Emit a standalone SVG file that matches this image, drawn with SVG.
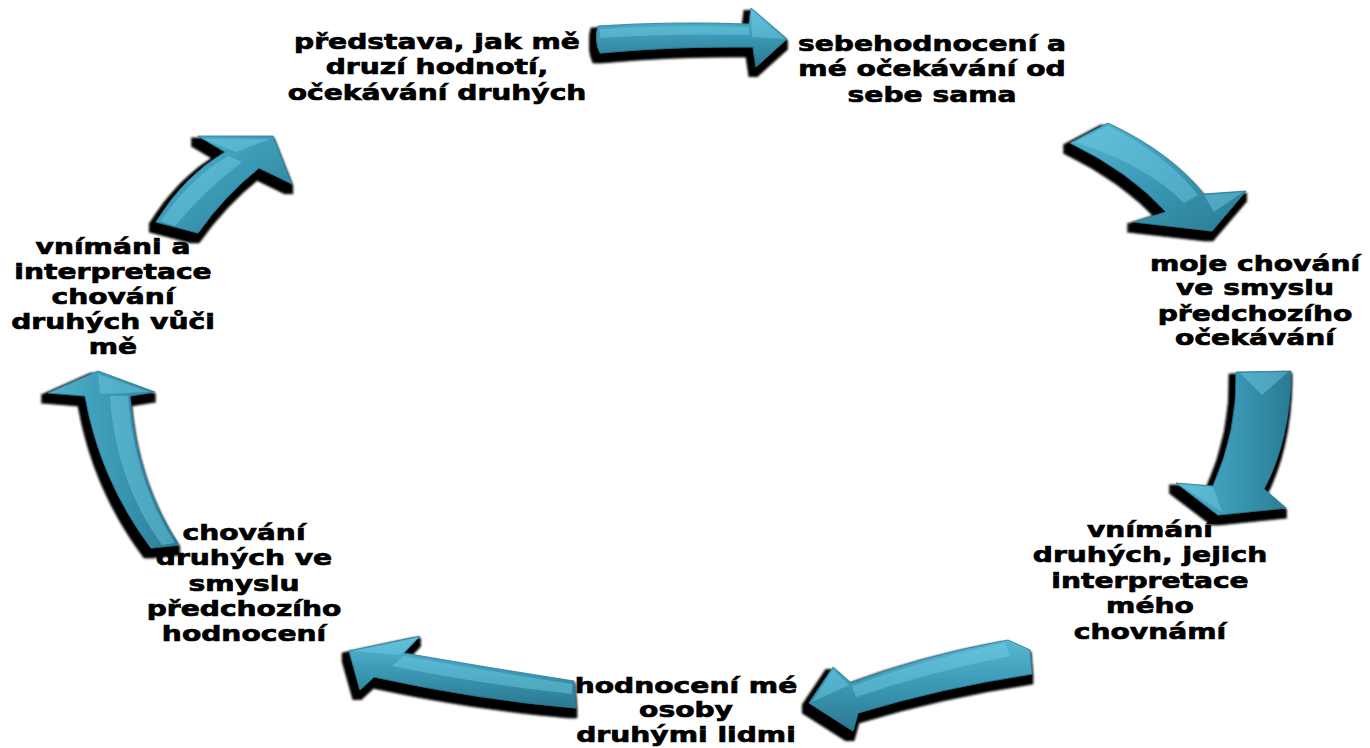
<svg xmlns="http://www.w3.org/2000/svg" width="1370" height="748" viewBox="0 0 1370 748">
<defs>
<style>
.t{font-family:"DejaVu Sans","Liberation Sans",sans-serif;font-weight:bold;font-size:22px;fill:#000;stroke:#000;stroke-width:0.7;text-anchor:middle}
.ar{filter:url(#sh);stroke:#2a7890;stroke-width:0.8;stroke-linejoin:round}
.hl{fill:#74cfe6;opacity:0.45}
</style>
<linearGradient id="gV" x1="0" y1="0" x2="0" y2="1">
<stop offset="0" stop-color="#58b8d2"/><stop offset="0.45" stop-color="#3d9cb8"/><stop offset="1" stop-color="#2a7790"/>
</linearGradient>
<linearGradient id="gH" x1="0" y1="0" x2="1" y2="0">
<stop offset="0" stop-color="#50b0cb"/><stop offset="0.5" stop-color="#3b99b5"/><stop offset="1" stop-color="#2a7a93"/>
</linearGradient>
<linearGradient id="gD" x1="0" y1="0" x2="1" y2="1">
<stop offset="0" stop-color="#55b5cf"/><stop offset="0.5" stop-color="#3b99b5"/><stop offset="1" stop-color="#2a7a93"/>
</linearGradient>
<filter id="sh" x="-25%" y="-35%" width="150%" height="170%">
<feMorphology in="SourceAlpha" operator="dilate" radius="4" result="d"/>
<feOffset in="d" dx="-3" dy="6" result="o"/>
<feGaussianBlur in="o" stdDeviation="1.2" result="b"/>
<feMerge><feMergeNode in="b"/><feMergeNode in="SourceGraphic"/></feMerge>
</filter>
</defs>
<rect width="1370" height="748" fill="#fff"/>

<g id="n1" transform="translate(437 0) scale(1.28 1)">
<text class="t" x="0" y="49">představa, jak mě</text>
<text class="t" x="0" y="74">druzí hodnotí,</text>
<text class="t" x="0" y="100">očekávání druhých</text>
</g>
<g id="n2" transform="translate(932 0) scale(1.28 1)">
<text class="t" x="0" y="51">sebehodnocení a</text>
<text class="t" x="0" y="76">mé očekávání od</text>
<text class="t" x="0" y="102">sebe sama</text>
</g>
<g id="n3" transform="translate(1255 0) scale(1.28 1)">
<text class="t" x="0" y="271">moje chování</text>
<text class="t" x="0" y="295">ve smyslu</text>
<text class="t" x="0" y="321">předchozího</text>
<text class="t" x="0" y="345">očekávání</text>
</g>
<g id="n4" transform="translate(1150 0) scale(1.28 1)">
<text class="t" x="0" y="537">vnímání</text>
<text class="t" x="0" y="562">druhých, jejich</text>
<text class="t" x="0" y="588">interpretace</text>
<text class="t" x="0" y="613">mého</text>
<text class="t" x="0" y="639">chovnámí</text>
</g>
<g id="n5" transform="translate(686 0) scale(1.28 1)">
<text class="t" x="0" y="693">hodnocení mé</text>
<text class="t" x="0" y="717">osoby</text>
<text class="t" x="0" y="742">druhými lidmi</text>
</g>
<g id="n6" transform="translate(244 0) scale(1.28 1)">
<text class="t" x="0" y="540">chování</text>
<text class="t" x="0" y="565">druhých ve</text>
<text class="t" x="0" y="591">smyslu</text>
<text class="t" x="0" y="616">předchozího</text>
<text class="t" x="0" y="641">hodnocení</text>
</g>
<g id="n7" transform="translate(113 0) scale(1.28 1)">
<text class="t" x="0" y="254">vnímáni a</text>
<text class="t" x="0" y="279">interpretace</text>
<text class="t" x="0" y="304">chování</text>
<text class="t" x="0" y="329">druhých vůči</text>
<text class="t" x="0" y="354">mě</text>
</g>

<g id="connectors">
<g id="a1">
<path class="ar" fill="url(#gV)" d="M598,26 Q672,21 749,24 L751,8 L787,39 L756,67 L753,47 Q673,46 600,53 Q594,40 598,26 Z"/>
<path class="hl" d="M600,29 Q672,24 749,27 L749,35 Q672,33 600,38 Z"/>
<path class="hl" d="M751,10 L785,39 L752,37 Z"/>
</g>
<g id="a2">
<path class="ar" fill="url(#gD)" d="M1070,143 L1108,123 Q1170,152 1204,194 L1246,191 L1212,231 L1134,222 L1166,212 Q1130,172 1070,143 Z"/>
<path class="hl" d="M1075,142 L1108,126 Q1166,154 1198,195 L1184,203 Q1148,166 1075,142 Z"/>
<path class="hl" d="M1204,195 L1243,192 L1214,212 Z"/>
</g>
<g id="a3">
<path class="ar" fill="url(#gH)" d="M1236,372 L1291,371 Q1290,440 1264,489 L1286,508 L1218,515 L1176,483 L1213,486 Q1238,430 1236,372 Z"/>
<path class="hl" d="M1240,373 L1288,372 L1262,395 Z"/>
<path class="hl" d="M1179,484 L1213,487 L1222,512 Z"/>
</g>
<g id="a4">
<path class="ar" fill="url(#gV)" d="M1008,640 L1030,650 L1032,674 Q940,688 858,713 L853,731 L809,703 L833,667 L851,683 Q925,655 1008,640 Z"/>
<path class="hl" d="M1005,643 Q925,659 852,686 L856,697 Q930,672 1010,656 Z"/>
<path class="hl" d="M833,670 L849,685 L812,702 Z"/>
</g>
<g id="a5">
<path class="ar" fill="url(#gV)" d="M420,636 L404,653 Q490,668 574,681 L576,708 Q480,700 374,677 L360,690 L349,651 Z"/>
<path class="hl" d="M404,656 Q490,671 572,684 L572,694 Q480,684 392,666 Z"/>
<path class="hl" d="M418,638 L352,651 L400,655 Z"/>
</g>
<g id="a6">
<path class="ar" fill="url(#gH)" d="M98,371 L155,392 L130,396 Q136,480 179,545 L151,548 Q100,480 85,396 L48,393 Z"/>
<path class="hl" d="M110,396 L128,396 Q134,480 175,543 L162,545 Q115,480 110,396 Z"/>
<path class="hl" d="M98,374 L150,392 L100,394 Z"/>
</g>
<g id="a7">
<path class="ar" fill="url(#gD)" d="M198,136 L273,136 L292,184 L259,168 Q224,196 198,233 L156,222 Q184,176 225,152 Z"/>
<path class="hl" d="M203,139 L270,139 L236,152 Z"/>
<path class="hl" d="M161,221 Q188,180 228,156 L242,162 Q205,190 175,226 Z"/>
</g>
</g>
</svg>
